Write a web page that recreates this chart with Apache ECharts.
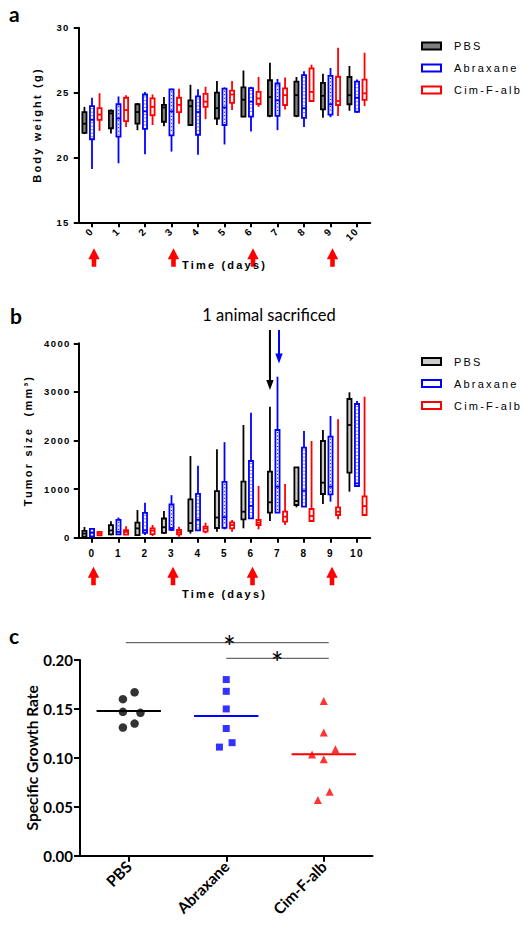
<!DOCTYPE html>
<html><head><meta charset="utf-8">
<script src="https://cdn.jsdelivr.net/npm/echarts@6/dist/echarts.min.js"></script>
<style>html,body{margin:0;padding:0;background:#fff}#c{width:526px;height:930px}</style>
</head><body><div id="c"></div><script>
// ---------- data ----------
const days = ['0','1','2','3','4','5','6','7','8','9','10'];
const groups = ['PBS','Abraxane','Cim-F-alb'];
const treatmentDays = [0, 3, 6, 9];
// Body weight (g): [min, Q1, median, Q3, max] per day
const weightPBS = [
 [21.8,21.9,22.6,23.5,23.9],[21.85,22.25,23.4,23.6,23.7],[22.1,22.6,23.5,24.1,24.2],
 [22.4,22.75,23.85,24.05,24.65],[22.5,22.5,23.95,24.4,25.6],[22.5,23.0,23.8,25.0,25.9],
 [23.1,23.14,24.45,25.4,26.7],[23.1,23.2,24.65,25.95,27.3],[23.1,23.2,24.8,25.85,26.2],
 [23.05,23.7,24.75,25.75,26.45],[23.6,24.1,24.8,26.2,27.05]];
const weightAbx = [
 [19.1,21.4,22.9,23.95,24.6],[19.55,21.6,23.0,24.1,24.7],[20.25,22.2,23.55,24.85,25.05],
 [20.45,21.7,23.55,25.25,25.3],[20.2,21.75,23.5,24.7,25.25],[21.0,22.5,23.85,25.3,25.4],
 [22.0,23.14,24.3,25.35,25.45],[22.1,23.2,24.4,25.7,26.05],[22.35,23.05,23.8,26.35,26.65],
 [23.1,23.3,24.1,26.28,26.9],[23.45,23.52,24.6,25.84,26.0]];
const weightCim = [
 [22.05,22.9,23.3,23.8,24.95],[22.35,22.8,23.65,24.6,24.8],[22.5,23.25,23.9,24.55,24.85],
 [22.6,23.5,24.05,24.6,25.3],[22.95,23.9,24.3,24.9,25.45],[23.65,24.2,24.85,25.15,25.9],
 [23.9,24.12,24.55,25.05,26.2],[23.7,24.04,24.8,25.33,26.17],[24.3,24.35,25.05,26.87,27.15],
 [23.2,24.04,24.35,26.22,28.45],[23.96,24.43,24.94,26.0,28.07]];
// Tumor size (mm3): [min, Q1, median, Q3, max] per day
const tumorPBS = [
 [7,20,85,140,220],[50,69,150,258,340],[34,55,192,309,569],[80,100,215,395,550],
 [85,140,300,790,1680],[120,200,415,958,1818],[193,379,535,1152,2319],[344,515,728,1358,2695],
 [625,673,755,1449,1449],[693,899,1132,1990,2216],[947,1338,2319,2854,2992]];
const tumorAbx = [
 [20,25,100,180,195],[62,69,120,367,415],[55,100,150,512,717],[137,160,200,683,875],
 [144,150,370,900,1482],[172,203,422,1150,1966],[399,399,652,1578,2572],[515,515,1050,2216,3313],
 [638,638,967,1852,2195],[741,893,1050,2078,2504],[1064,1064,1119,2751,2813]];
const tumorCim = [
 [34,48,82,120,137],[55,65,120,155,237],[34,75,144,192,261],[21,69,110,158,226],
 [89,123,192,226,309],[123,192,261,316,364],[172,261,309,364,1064],[261,329,432,535,1105],
 [344,344,447,591,1990],[379,467,535,625,2436],[467,467,650,850,2901]];
// Specific growth rate per animal, with horizontal jitter (category units)
const ratePBS = [0.160,0.167,0.147,0.146,0.131,0.135];
const jitterPBS = [-0.06,0.06,-0.06,0.12,-0.06,0.06];
const rateAbx = [0.180,0.168,0.150,0.130,0.111,0.1155];
const jitterAbx = [0,0,0,0,-0.07,0.06];
const rateCim = [0.158,0.126,0.1035,0.1087,0.0985,0.0654,0.0569];
const jitterCim = [0,0,-0.12,0.12,0,0.06,-0.06];
const rateCenters = [0.148,0.1428,0.1036];

// ---------- style ----------
const F1 = "'Liberation Sans', Arial, sans-serif";
const F2 = "Lato, 'Noto Sans', sans-serif";
const RED = '#ff0000', BLUE = '#0000ff', BLACK = '#000000';

function makeBox(name, rows, ai, offset, stroke, fill, dotted) {
  return {
    type: 'custom', name: name, xAxisIndex: ai, yAxisIndex: ai,
    data: rows.map((r, i) => [i].concat(r)),
    encode: { x: 0, y: [1, 2, 3, 4, 5] },
    itemStyle: { color: stroke },
    renderItem: function (params, api) {
      const i = api.value(0);
      const bw = api.size([1, 0])[0];
      const cx = api.coord([i, api.value(1)])[0] + offset * bw;
      const y = [1, 2, 3, 4, 5].map(k => api.coord([i, api.value(k)])[1]);
      const w = bw * 0.155, lw = 1.8;
      const ch = [
        { type: 'line', shape: { x1: cx, y1: y[4], x2: cx, y2: y[3] }, style: { stroke: stroke, lineWidth: lw } },
        { type: 'line', shape: { x1: cx, y1: y[1], x2: cx, y2: y[0] }, style: { stroke: stroke, lineWidth: lw } },
        { type: 'rect', shape: { x: cx - w / 2, y: y[3], width: w, height: Math.max(y[1] - y[3], 0.5) }, style: { fill: fill, stroke: stroke, lineWidth: lw } }
      ];
      if (dotted && y[1] - y[3] > 5) ch.push({ type: 'line', shape: { x1: cx, y1: y[3] + 2, x2: cx, y2: y[1] - 2 }, style: { stroke: stroke, lineWidth: 1, lineDash: [1, 2.5] } });
      ch.push({ type: 'line', shape: { x1: cx - w / 2, y1: y[2], x2: cx + w / 2, y2: y[2] }, style: { stroke: stroke, lineWidth: lw } });
      return { type: 'group', children: ch };
    }
  };
}

const axLine = { show: true, onZero: false, lineStyle: { color: '#000', width: 2 } };
const axTick = (len) => ({ show: true, length: len, lineStyle: { color: '#000', width: 2 } });
const boldTick = (size) => ({ fontFamily: F1, fontWeight: 'bold', fontSize: size, color: '#000' });
const titleStyle = { fontFamily: F1, fontWeight: 'bold', fontSize: 11, color: '#000' };
const plain = v => String(v);

function legendFor(top, pbsFill) {
  return {
    orient: 'vertical', left: 416, top: top, itemWidth: 19, itemHeight: 7, itemGap: 8,
    icon: 'rect', selectedMode: false,
    textStyle: { fontFamily: F1, fontSize: 11, color: '#000', lineHeight: 14, padding: [0, 0, 0, 8] },
    data: [
      { name: groups[0], itemStyle: { color: pbsFill, borderColor: BLACK, borderWidth: 2 } },
      { name: groups[1], itemStyle: { color: '#fff', borderColor: BLUE, borderWidth: 2 } },
      { name: groups[2], itemStyle: { color: '#fff', borderColor: RED, borderWidth: 2 } }
    ]
  };
}

const option = {
  animation: false,
  backgroundColor: '#fff',
  grid: [
    { left: 78.75, top: 27.7, width: 291.5, height: 194.6, outerBoundsMode: 'none' },
    { left: 78.75, top: 343.3, width: 291.5, height: 194.4, outerBoundsMode: 'none' },
    { left: 80, top: 660, width: 292.5, height: 195.7, outerBoundsMode: 'none' }
  ],
  legend: [legendFor(34, '#7f7f7f'), legendFor(349.5, '#cccccc')],
  xAxis: [
    { gridIndex: 0, type: 'category', data: days, boundaryGap: true, axisLine: axLine,
      axisTick: Object.assign(axTick(5), { alignWithLabel: true, interval: 0 }),
      axisLabel: Object.assign(boldTick(10), { rotate: 45, margin: 7, interval: 0 }),
      name: 'Time (days)', nameLocation: 'middle', nameGap: 37, nameMoveOverlap: false, nameTextStyle: titleStyle },
    { gridIndex: 1, type: 'category', data: days, boundaryGap: true, axisLine: axLine,
      axisTick: Object.assign(axTick(5), { alignWithLabel: true, interval: 0 }),
      axisLabel: Object.assign(boldTick(10), { margin: 11, interval: 0 }),
      name: 'Time (days)', nameLocation: 'middle', nameGap: 51, nameMoveOverlap: false, nameTextStyle: titleStyle },
    { gridIndex: 2, type: 'category', data: groups, boundaryGap: true, axisLine: axLine,
      axisTick: Object.assign(axTick(6), { alignWithLabel: true, interval: 0 }),
      axisLabel: { rotate: 45, margin: 8, interval: 0, fontFamily: F2, fontWeight: 'bold', fontSize: 15.5, color: '#000' } },
    { gridIndex: 2, type: 'value', min: -0.5, max: 2.5, show: false }
  ],
  yAxis: [
    { gridIndex: 0, type: 'value', min: 15, max: 30, interval: 5, axisLine: axLine, axisTick: axTick(5),
      splitLine: { show: false }, axisLabel: Object.assign(boldTick(9.5), { margin: 9, formatter: plain }),
      name: 'Body weight (g)', nameLocation: 'middle', nameRotate: 90, nameGap: 36, nameMoveOverlap: false, nameTextStyle: titleStyle },
    { gridIndex: 1, type: 'value', min: 0, max: 4000, interval: 1000, axisLine: axLine, axisTick: axTick(5),
      splitLine: { show: false }, axisLabel: Object.assign(boldTick(9.5), { margin: 8, formatter: plain }),
      name: 'Tumor size  (mm³)', nameLocation: 'middle', nameRotate: 90, nameGap: 45, nameMoveOverlap: false, nameTextStyle: titleStyle },
    { gridIndex: 2, type: 'value', min: 0, max: 0.2, interval: 0.05, axisLine: axLine, axisTick: axTick(6),
      splitLine: { show: false },
      axisLabel: { margin: 7, fontFamily: F2, fontWeight: 'bold', fontSize: 15, color: '#000', formatter: v => v.toFixed(2) },
      name: 'Specific Growth Rate', nameLocation: 'middle', nameRotate: 90, nameGap: 40, nameMoveOverlap: false,
      nameTextStyle: { fontFamily: F2, fontWeight: 'bold', fontSize: 15.5, color: '#000' } }
  ],
  series: [
    makeBox(groups[0], weightPBS, 0, -0.285, BLACK, '#7f7f7f', false),
    makeBox(groups[1], weightAbx, 0, 0, BLUE, '#ffffff', true),
    makeBox(groups[2], weightCim, 0, 0.285, RED, '#ffffff', false),
    makeBox(groups[0], tumorPBS, 1, -0.285, BLACK, '#cccccc', false),
    makeBox(groups[1], tumorAbx, 1, 0, BLUE, '#ffffff', true),
    makeBox(groups[2], tumorCim, 1, 0.285, RED, '#ffffff', false),
    { type: 'scatter', name: groups[0], xAxisIndex: 3, yAxisIndex: 2, symbol: 'circle', symbolSize: 8.5,
      itemStyle: { color: BLACK }, data: ratePBS.map((v, i) => [0 + jitterPBS[i], v]) },
    { type: 'scatter', name: groups[1], xAxisIndex: 3, yAxisIndex: 2, symbol: 'rect', symbolSize: 7,
      itemStyle: { color: BLUE }, data: rateAbx.map((v, i) => [1 + jitterAbx[i], v]) },
    { type: 'scatter', name: groups[2], xAxisIndex: 3, yAxisIndex: 2, symbol: 'triangle', symbolSize: 8,
      itemStyle: { color: RED }, data: rateCim.map((v, i) => [2 + jitterCim[i], v]) }
  ].concat(rateCenters.map((m, g) => ({
    type: 'line', xAxisIndex: 3, yAxisIndex: 2, symbol: 'none', silent: true,
    lineStyle: { color: [BLACK, BLUE, RED][g], width: 2 },
    data: [[g - 0.33, m], [g + 0.33, m]]
  })))
};

const chart = echarts.init(document.getElementById('c'), null, { renderer: 'svg', width: 526, height: 930 });
chart.setOption(option);

// ---------- annotations ----------
function upArrow(x, top, color) {
  return { type: 'polygon', shape: { points: [[x, top], [x + 5.7, top + 11], [x + 2.3, top + 11], [x + 2.3, top + 18.5], [x - 2.3, top + 18.5], [x - 2.3, top + 11], [x - 5.7, top + 11]] }, style: { fill: color } };
}
function downArrow(x, top, tip, color) {
  return [
    { type: 'line', shape: { x1: x, y1: top, x2: x, y2: tip - 6 }, style: { stroke: color, lineWidth: 2 } },
    { type: 'polygon', shape: { points: [[x - 3.7, tip - 10], [x + 3.7, tip - 10], [x, tip]] }, style: { fill: color } }
  ];
}
const gfx = [];
treatmentDays.forEach(d => {
  gfx.push(upArrow(chart.convertToPixel({ xAxisIndex: 0 }, d) + 2, 248.3, RED));
  gfx.push(upArrow(chart.convertToPixel({ xAxisIndex: 1 }, d) + 1.5, 566.7, RED));
});
const x7 = chart.convertToPixel({ xAxisIndex: 1 }, 7);
const bw1 = 291.5 / days.length;
downArrow(x7 - 0.285 * bw1, 330, 390, BLACK).forEach(e => gfx.push(e));
downArrow(x7 + 1.5, 330, 363.5, BLUE).forEach(e => gfx.push(e));
const txt = (x, y, s, size, weight, align) => ({ type: 'text', x: x, y: y,
  style: { text: s, fontFamily: F2, fontSize: size, fontWeight: weight, fill: '#000', textAlign: align, align: align, textVerticalAlign: 'middle', verticalAlign: 'middle' } });
gfx.push(txt(9, 13, 'a', 21, 'bold', 'left'));
gfx.push(txt(10, 315, 'b', 21, 'bold', 'left'));
gfx.push(txt(9, 635, 'c', 21, 'bold', 'left'));
gfx.push(txt(269, 315, '1 animal sacrificed', 16.5, 'normal', 'center'));
const cx0 = chart.convertToPixel({ xAxisIndex: 2 }, 0), cx1 = chart.convertToPixel({ xAxisIndex: 2 }, 1), cx2 = chart.convertToPixel({ xAxisIndex: 2 }, 2);
gfx.push({ type: 'line', shape: { x1: cx0 - 3, y1: 642.7, x2: cx2 + 5, y2: 642.7 }, style: { stroke: '#444', lineWidth: 1 } });
gfx.push({ type: 'line', shape: { x1: cx1, y1: 658.3, x2: cx2 + 5, y2: 658.3 }, style: { stroke: '#444', lineWidth: 1 } });
gfx.push(txt(cx1 + 3, 646, '*', 30, 'normal', 'center'));
gfx.push(txt(277, 661.5, '*', 30, 'normal', 'center'));
chart.setOption({ graphic: { elements: gfx } });

// letter-spaced GraphPad-style text for panels a and b
function spaceLetters() {
  document.querySelectorAll('#c svg text').forEach(t => {
    const cs = getComputedStyle(t);
    if (cs.fontFamily.indexOf('Liberation') >= 0) {
      const fs = parseFloat(cs.fontSize);
      t.style.letterSpacing = (fs >= 10.8 ? 2.2 : 1.4) + 'px';
    }
  });
}
spaceLetters();
chart.on('finished', spaceLetters);
</script></body></html>
